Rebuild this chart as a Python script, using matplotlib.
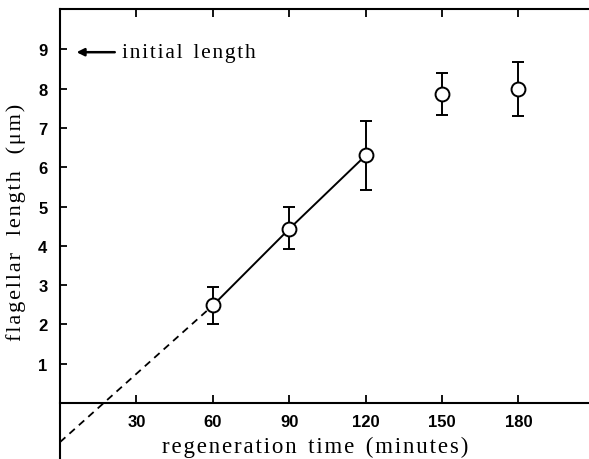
import matplotlib
matplotlib.use("Agg")
import matplotlib.pyplot as plt

# data
times = [60, 90, 120, 150, 180]
lengths = [2.48, 4.43, 6.30, 7.86, 8.00]
err_low = [0.48, 0.51, 0.87, 0.53, 0.69]
err_high = [0.47, 0.55, 0.88, 0.54, 0.67]
fit_x = [60, 90, 120]
fit_y = [2.48, 4.43, 6.30]
extrap_x = [0, 60]
extrap_y = [-1.0, 2.48]
xticks = [30, 60, 90, 120, 150, 180]
yticks = [1, 2, 3, 4, 5, 6, 7, 8, 9]
initial_length = 8.93


def spaced(s, sep='\u200a'):
    return sep.join(s)


fig = plt.figure(figsize=(5.89, 4.60), dpi=100)
ax = fig.add_axes([60/589, 0.0, 1 - 60/589 + 0.01, (460-10)/460])
ax.set_xlim(0, 210)
ax.set_ylim(-1.43, 10.03)

ax.plot(extrap_x, extrap_y, ls=(0, (4, 3)), color='black', lw=1.3, zorder=2)
ax.plot(fit_x, fit_y, color='black', lw=1.4, zorder=2)
ax.errorbar(times, lengths, yerr=[err_low, err_high], fmt='o', ms=10,
            mfc='white', mec='black', mew=1.4, ecolor='black', elinewidth=1.4,
            capsize=4.5, capthick=1.4, zorder=3)

ax.spines['right'].set_visible(False)
ax.spines['bottom'].set_position(('data', 0))
for s in ['left', 'top', 'bottom']:
    ax.spines[s].set_linewidth(1.5)

ax.set_xticks(xticks)
ax.set_xticklabels([str(t) for t in xticks])
ax.set_yticks(yticks)
ax.set_yticklabels([str(t) for t in yticks])
ax.tick_params(axis='x', direction='in', length=6, width=1.3, top=True, pad=8)
ax.tick_params(axis='y', direction='in', length=5, width=1.3, pad=9)
for lab in ax.get_xticklabels() + ax.get_yticklabels():
    lab.set_fontfamily('Liberation Sans')
    lab.set_fontweight('bold')
    lab.set_fontsize(12)

# initial length annotation
ax.annotate('', xy=(6.5, initial_length), xytext=(21.5, initial_length),
            arrowprops=dict(arrowstyle='-|>', color='black', lw=1.8,
                            mutation_scale=11, shrinkA=0, shrinkB=0))
ax.text(24.5, initial_length, spaced('initial') + '  ' + spaced('length'),
        fontfamily='Liberation Serif', fontsize=15.5, va='center', ha='left')

fig.text(315/589, 1 - 447/460, spaced('regeneration') + '  ' + spaced('time') + '  ' + spaced('(minutes)'),
         fontfamily='Liberation Serif', fontsize=16.5, ha='center', va='center')
fig.text(16/589, 1 - 222/460, spaced('flagellar') + '   ' + spaced('length') + '   ' + spaced('(μm)'),
         fontfamily='Liberation Serif', fontsize=16, ha='center', va='center',
         rotation=90)

fig.savefig('out.png', dpi=100)
